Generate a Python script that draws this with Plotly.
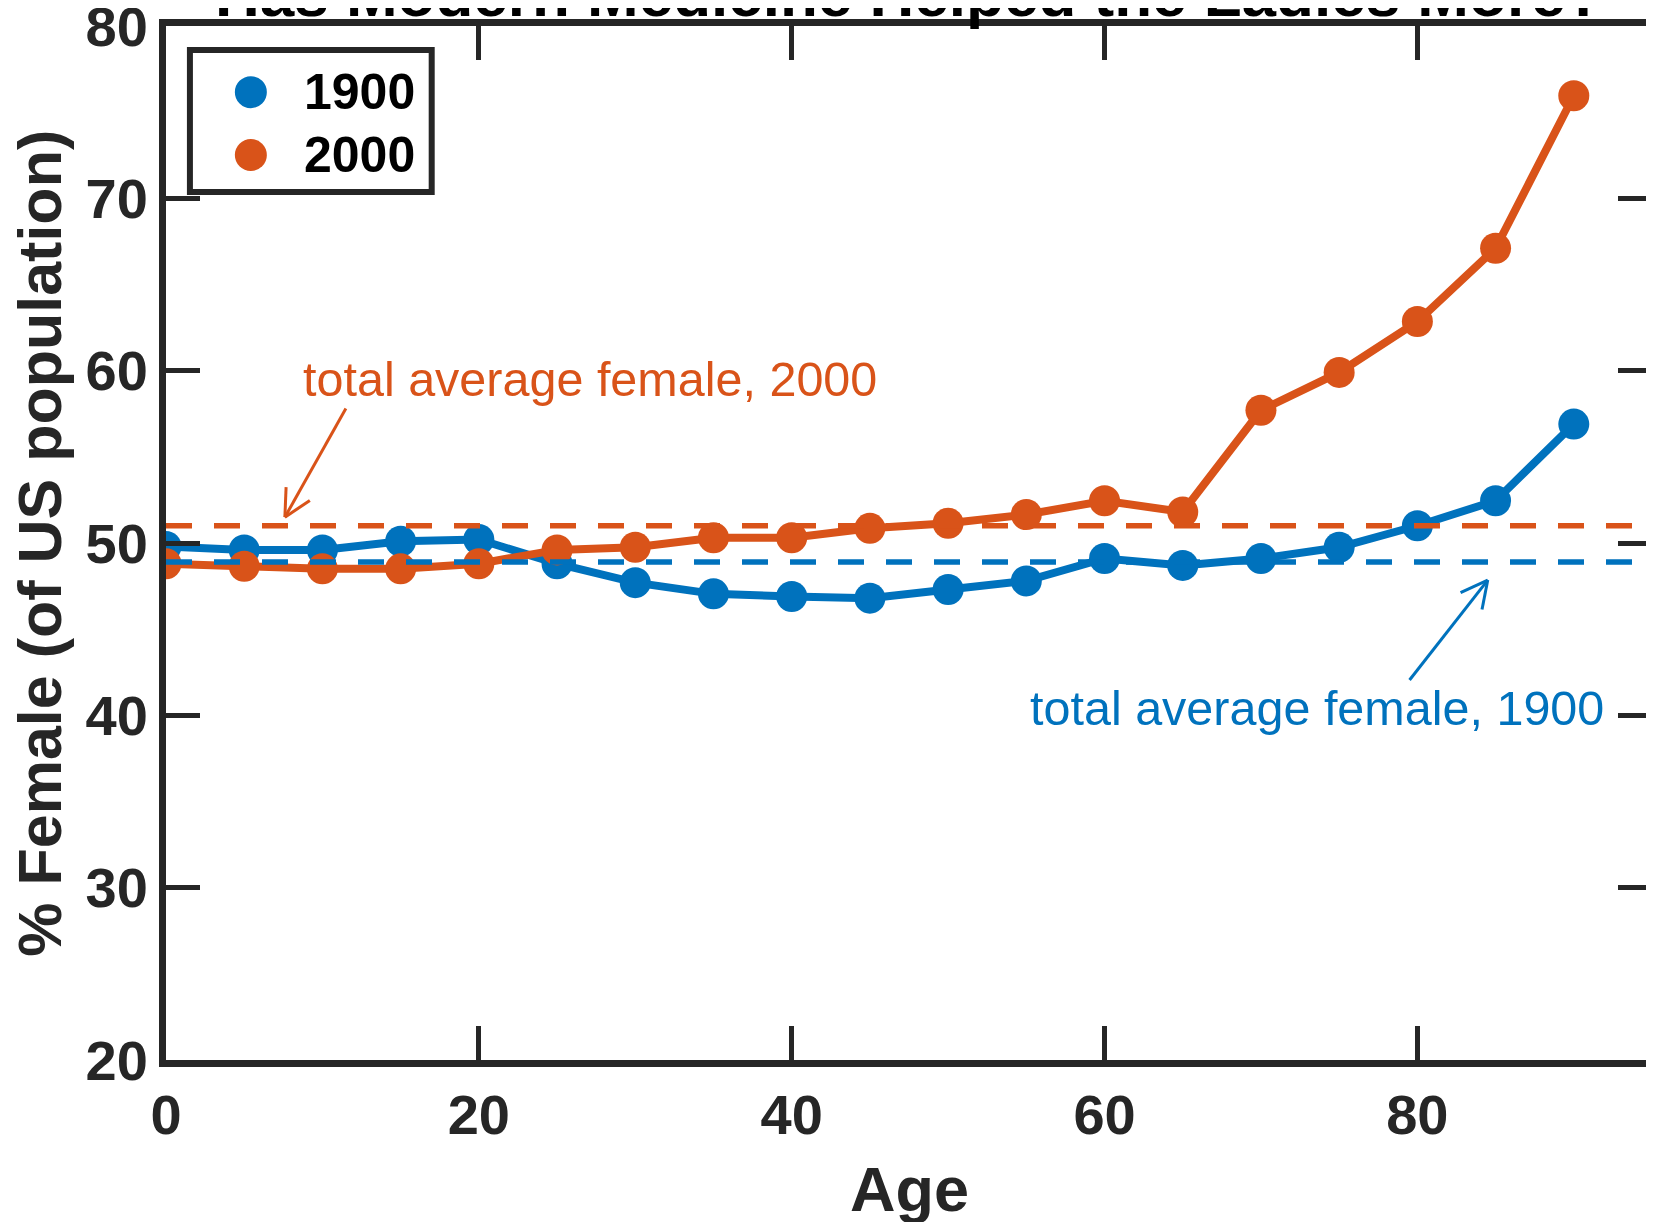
import numpy as np
import plotly.graph_objects as go

# DATA ------------------------------------------------------------------------
ages = [0, 5, 10, 15, 20, 25, 30, 35, 40, 45, 50, 55, 60, 65, 70, 75, 80, 85, 90]
female_1900 = [49.8, 49.6, 49.6, 50.1, 50.2, 48.8, 47.7, 47.05, 46.9, 46.8, 47.3, 47.8,
               49.1, 48.7, 49.1, 49.75, 51.0, 52.45, 56.9]
female_2000 = [48.8, 48.65, 48.5, 48.5, 48.8, 49.6, 49.75, 50.3, 50.3, 50.85, 51.15, 51.65,
               52.45, 51.8, 57.7, 59.9, 62.85, 67.1, 75.95]
avg_1900 = 48.9
avg_2000 = 51.0

x_range = [0, 95]
y_range = [20, 80]
x_ticks = [0, 20, 40, 60, 80]
y_ticks = [20, 30, 40, 50, 60, 70, 80]

# annotation text anchors and arrows (tail -> head), data units
label_2000 = dict(text="total average female, 2000", x=8.6, y=59.5)
label_1900 = dict(text="total average female, 1900", x=55.1, y=40.4)
arrow_2000 = [(11.5, 57.8), (7.6, 51.5)]
arrow_1900 = [(79.5, 42.05), (84.5, 47.85)]

# STYLE -----------------------------------------------------------------------
BLUE = '#0072BD'
ORANGE = '#D95319'
AXIS = '#262626'
FONT = 'Liberation Sans, Arial, sans-serif'

# page body adds an 8px margin, so the figure is 8px smaller than the window
W, H = 1646, 1214
M = dict(l=158, r=2, t=18, b=162)
plot_w = W - M['l'] - M['r']
plot_h = H - M['t'] - M['b']
sx = plot_w / (x_range[1] - x_range[0])   # px per data unit
sy = plot_h / (y_range[1] - y_range[0])


def arrow_xy(tail, head, wing_px=30, angle_deg=27):
    # shaft plus an open V head, computed in pixel space and mapped back to data
    (x0, y0), (x1, y1) = tail, head
    dx, dy = (x0 - x1) * sx, (y0 - y1) * sy
    n = np.hypot(dx, dy)
    ux, uy = dx / n, dy / n
    xs, ys = [x0, x1, None], [y0, y1, None]
    for a in (np.radians(angle_deg), -np.radians(angle_deg)):
        wx = ux * np.cos(a) - uy * np.sin(a)
        wy = ux * np.sin(a) + uy * np.cos(a)
        xs += [x1 + wx * wing_px / sx, x1, None]
        ys += [y1 + wy * wing_px / sy, y1, None]
    return xs, ys


fig = go.Figure()

# data series
for vals, col, name in [(female_1900, BLUE, '1900'), (female_2000, ORANGE, '2000')]:
    fig.add_trace(go.Scatter(
        x=ages, y=vals, mode='lines+markers', name=name, showlegend=False,
        line=dict(color=col, width=8),
        marker=dict(color=col, size=31),
    ))

# average reference lines
for avg, col in [(avg_2000, ORANGE), (avg_1900, BLUE)]:
    fig.add_trace(go.Scatter(
        x=x_range, y=[avg, avg], mode='lines', showlegend=False, hoverinfo='skip',
        line=dict(color=col, width=5.5, dash='26px,22px'),
    ))

# arrows
for (tail, head), col in [(arrow_2000, ORANGE), (arrow_1900, BLUE)]:
    ax_, ay_ = arrow_xy(tail, head)
    fig.add_trace(go.Scatter(x=ax_, y=ay_, mode='lines', showlegend=False,
                             hoverinfo='skip', line=dict(color=col, width=3)))

# text labels
for lab, col in [(label_2000, ORANGE), (label_1900, BLUE)]:
    fig.add_annotation(x=lab['x'], y=lab['y'], text=lab['text'], showarrow=False,
                       xanchor='left', yanchor='middle',
                       font=dict(family=FONT, size=48.5, color=col))

# axis titles and (clipped) plot title
fig.add_annotation(xref='paper', yref='paper', x=-0.085, y=0.5, text='<b>% Female (of US population)</b>',
                   textangle=-90, showarrow=False, xanchor='center', yanchor='middle',
                   font=dict(family=FONT, size=61, color=AXIS))
fig.add_annotation(xref='paper', yref='paper', x=0.5, y=-0.089, text='<b>Age</b>',
                   showarrow=False, xanchor='center', yanchor='top',
                   font=dict(family=FONT, size=63, color=AXIS))
fig.add_annotation(xref='paper', yref='paper', x=0.5, y=1.0, yshift=-4,
                   text='<b>Has Modern Medicine Helped the Ladies More?</b>',
                   showarrow=False, xanchor='center', yanchor='bottom', borderpad=0,
                   font=dict(family=FONT, size=62, color='black'))

# hand-built legend (plotly caps legend marker size)
leg_box = dict(x0=0.0161, x1=0.1788, y0=0.8395, y1=0.9768)
fig.add_shape(type='rect', xref='paper', yref='paper', **leg_box,
              line=dict(color=AXIS, width=6), fillcolor='white', layer='above')
for yy, col, name in [(0.936, BLUE, '1900'), (0.8752, ORANGE, '2000')]:
    fig.add_shape(type='circle', xref='paper', yref='paper', xsizemode='pixel', ysizemode='pixel',
                  xanchor=0.0571, yanchor=yy, x0=-16, x1=16, y0=-16, y1=16,
                  fillcolor=col, line=dict(width=0), layer='above')
    fig.add_annotation(xref='paper', yref='paper', x=0.1687, y=yy, text=f'<b>{name}</b>',
                       showarrow=False, xanchor='right', yanchor='middle',
                       font=dict(family=FONT, size=50, color='black'))

axis_common = dict(showgrid=False, zeroline=False, showline=True, linewidth=7, linecolor=AXIS,
                   mirror='ticks', ticks='inside', ticklen=34, tickwidth=5, tickcolor=AXIS,
                   tickfont=dict(family=FONT, size=56, color=AXIS), fixedrange=True,
                   automargin=False, ticklabeloverflow='allow')

fig.update_layout(
    width=W, height=H, margin=M,
    paper_bgcolor='white', plot_bgcolor='white',
    showlegend=False,
    xaxis=dict(range=x_range, tickvals=x_ticks, ticktext=[f'<b>{t}</b>' for t in x_ticks], **axis_common),
    yaxis=dict(range=y_range, tickvals=y_ticks, ticktext=[f'<b>{t}</b>' for t in y_ticks], **axis_common),
)

fig.write_html("out.html")
